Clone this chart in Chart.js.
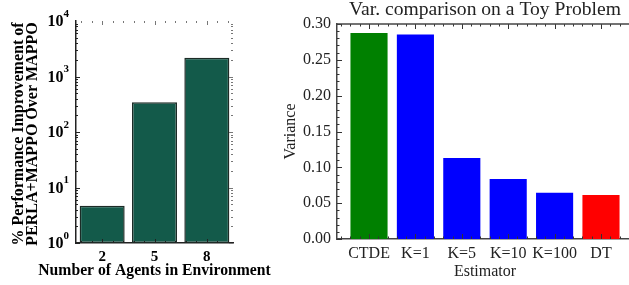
<!DOCTYPE html>
<html>
<head>
<meta charset="utf-8">
<script src="https://cdn.jsdelivr.net/npm/chart.js@4.4.0/dist/chart.umd.min.js"></script>
<style>
html, body { margin: 0; padding: 0; background: #fff; overflow: hidden; width: 629px; height: 285px; position: relative; }
canvas { position: absolute; top: 0; }
#left { left: 0; }
#right { left: 240px; }
</style>
</head>
<body>
<canvas id="right" width="400" height="285"></canvas>
<canvas id="left" width="300" height="285"></canvas>
<script>
// left panel
const agentCounts = ['2', '5', '8']
const improvement = [4.7, 343, 2180]
const decadeTicks = [1, 10, 100, 1000, 10000]

// right panel
const estimators = ['CTDE', 'K=1', 'K=5', 'K=10', 'K=100', 'DT']
const variance = [0.2874, 0.2852, 0.113, 0.0837, 0.0646, 0.0614]
const varianceTicks = [0, 0.05, 0.1, 0.15, 0.2, 0.25, 0.3]

const serif = "'Liberation Serif', 'Times New Roman', serif"

function tick(ctx, x1, y1, x2, y2) {
    ctx.beginPath()
    ctx.moveTo(x1, y1)
    ctx.lineTo(x2, y2)
    ctx.stroke()
}

const leftDecor = {
    id: 'leftDecor',
    afterDatasetsDraw(chart) {
        const ctx = chart.ctx
        const a = chart.chartArea
        const y = chart.scales.y
        const x = chart.scales.x
        ctx.save()
        ctx.lineWidth = 1
        // log ticks, inside on both sides
        for (let d = 0; d < 4; d++) {
            for (let m = 1; m < 10; m++) {
                const py = Math.round(y.getPixelForValue(m * Math.pow(10, d))) + 0.5
                const len = m === 1 ? 4 : 2
                ctx.strokeStyle = '#222'
                tick(ctx, a.left, py, a.left + len, py)
                ctx.strokeStyle = '#777'
                tick(ctx, a.right - len, py, a.right, py)
            }
        }
        // category ticks top and bottom
        for (let k = -2; k <= 12; k++) {
            const px = Math.round(x.getPixelForValue(k / 5)) + 0.5
            const len = k % 5 === 0 ? 4 : 2
            ctx.strokeStyle = '#222'
            tick(ctx, px, a.bottom, px, a.bottom - len)
            ctx.strokeStyle = '#777'
            tick(ctx, px, a.top, px, a.top + len)
        }
        // decade labels with superscripts
        ctx.fillStyle = '#000'
        ctx.textBaseline = 'middle'
        decadeTicks.forEach((v, i) => {
            const py = y.getPixelForValue(v)
            ctx.font = 'bold 11px ' + serif
            ctx.textAlign = 'left'
            const expW = ctx.measureText(String(i)).width
            const right = a.left - 7
            ctx.fillText(String(i), right - expW, py - 7)
            ctx.font = 'bold 16px ' + serif
            ctx.textAlign = 'right'
            ctx.fillText('10', right - expW, py + 1)
        })
        // axis titles, drawn at natural width
        ctx.font = 'bold 15.7px ' + serif
        ctx.textAlign = 'center'
        ctx.fillText('Number of Agents in Environment', (a.left + a.right) / 2, 271)
        ctx.translate(0, (a.top + a.bottom) / 2 + 2)
        ctx.rotate(-Math.PI / 2)
        ctx.font = 'bold 16px ' + serif
        ctx.fillText('% Performance Improvement of', 0, 19)
        ctx.fillText('PERLA+MAPPO Over MAPPO', 0, 33)
        ctx.restore()
    }
}

new Chart(document.getElementById('left'), {
    type: 'bar',
    data: {
        labels: agentCounts,
        datasets: [{
            data: improvement,
            backgroundColor: '#135a4a',
            borderColor: '#1c2b26',
            borderWidth: 1.5,
            borderSkipped: false,
            barPercentage: 0.86,
            categoryPercentage: 1
        }]
    },
    options: {
        responsive: false,
        animation: false,
        devicePixelRatio: 1,
        layout: { padding: { top: 21, right: 67, left: 0, bottom: 0 } },
        plugins: { legend: { display: false }, tooltip: { enabled: false } },
        scales: {
            x: {
                afterFit: s => { s.height = 42 },
                grid: { display: false, drawTicks: false },
                border: { color: '#222', width: 1.5 },
                ticks: { color: '#000', font: { family: serif, size: 15, weight: 'bold' }, padding: 5 }
            },
            y: {
                type: 'logarithmic',
                min: 1,
                max: 10000,
                afterFit: s => { s.width = 76 },
                grid: { display: false, drawTicks: false },
                border: { color: '#222', width: 1.5 },
                ticks: { display: false }
            }
        }
    },
    plugins: [leftDecor]
})

const rightDecor = {
    id: 'rightDecor',
    afterDatasetsDraw(chart) {
        const ctx = chart.ctx
        const a = chart.chartArea
        const y = chart.scales.y
        const x = chart.scales.x
        ctx.save()
        ctx.lineWidth = 1
        ctx.strokeStyle = '#333'
        for (let k = 0; k <= 30; k++) {
            const py = Math.round(y.getPixelForValue(k / 100)) + 0.5
            const len = k % 5 === 0 ? 5 : 2.5
            tick(ctx, a.left, py, a.left + len, py)
        }
        for (let k = -3; k <= 28; k++) {
            const px = Math.round(x.getPixelForValue(k / 5)) + 0.5
            const len = k % 5 === 0 ? 5 : 2.5
            tick(ctx, px, a.bottom, px, a.bottom - len)
            tick(ctx, px, a.top, px, a.top + len)
        }
        ctx.lineWidth = 1.5
        ctx.strokeStyle = '#444'
        tick(ctx, a.left, a.top, a.right, a.top)
        // title centred on the axes
        ctx.fillStyle = '#222'
        ctx.font = '19.6px ' + serif
        ctx.textAlign = 'center'
        ctx.textBaseline = 'middle'
        ctx.fillText('Var. comparison on a Toy Problem', (a.left + a.right) / 2, 10)
        ctx.restore()
    }
}

new Chart(document.getElementById('right'), {
    type: 'bar',
    data: {
        datasets: [{
            data: estimators.map((e, i) => ({ x: i, y: variance[i] })),
            backgroundColor: estimators.map(e => e === 'CTDE' ? '#008000' : e === 'DT' ? '#ff0000' : '#0000ff'),
            borderWidth: 0,
            barPercentage: 0.8,
            categoryPercentage: 1
        }]
    },
    options: {
        responsive: false,
        animation: false,
        devicePixelRatio: 1,
        layout: { padding: { top: 24, right: 7, left: 0, bottom: 0 } },
        plugins: { legend: { display: false }, tooltip: { enabled: false } },
        scales: {
            x: {
                type: 'linear',
                offset: false,
                min: -0.69,
                max: 5.69,
                afterBuildTicks: s => { s.ticks = estimators.map((e, i) => ({ value: i })) },
                afterFit: s => { s.height = 46 },
                grid: { display: false, drawTicks: false },
                border: { color: '#444', width: 1.5 },
                ticks: {
                    autoSkip: false,
                    maxRotation: 0,
                    color: '#222',
                    font: { family: serif, size: 16 },
                    padding: 5,
                    callback: v => estimators[v]
                },
                title: {
                    display: true,
                    text: 'Estimator',
                    color: '#222',
                    font: { family: serif, size: 16 },
                    padding: { top: 0, bottom: 4 }
                }
            },
            y: {
                min: 0,
                max: 0.3,
                afterBuildTicks: s => { s.ticks = varianceTicks.map(v => ({ value: v })) },
                afterFit: s => { s.width = 97 },
                grid: { display: false, drawTicks: false },
                border: { color: '#444', width: 1.5 },
                ticks: {
                    color: '#222',
                    font: { family: serif, size: 16 },
                    padding: 6,
                    callback: v => v.toFixed(2)
                },
                title: {
                    display: true,
                    text: 'Variance',
                    color: '#222',
                    font: { family: serif, size: 16 },
                    padding: { top: 41, bottom: 0 }
                }
            }
        }
    },
    plugins: [rightDecor]
})
</script>
</body>
</html>
